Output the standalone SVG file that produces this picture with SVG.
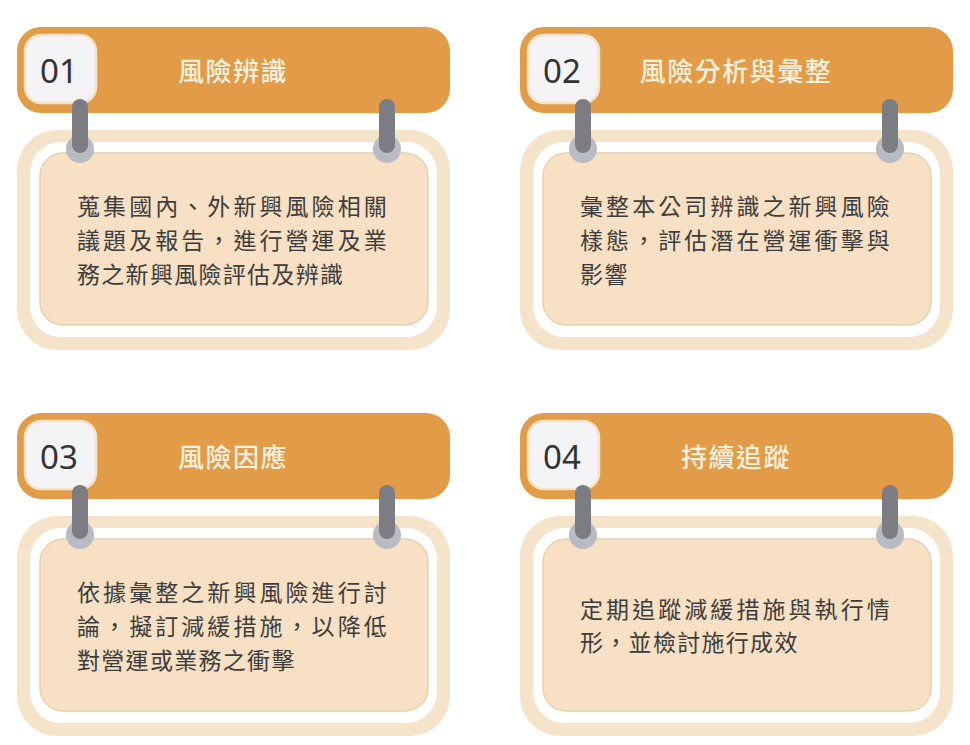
<svg xmlns="http://www.w3.org/2000/svg" xmlns:xlink="http://www.w3.org/1999/xlink" width="970" height="745" viewBox="0 0 970 745">
  <style>
    .hdr { fill: #e29b46; }
    .numbox { fill: #f4f4f7; stroke: #f7e2c6; stroke-width: 2.5; }
    .outer { fill: #f5e3ca; }
    .band { fill: #ffffff; }
    .inner { fill: #f7e0c3; stroke: #e8d0b1; stroke-width: 1.5; }
    .ring { fill: #b9bbc2; }
    .bar { fill: #7b7d83; }
    .num { font-family: "Noto Sans", "Open Sans", sans-serif; font-size: 33px; fill: #333333; text-anchor: middle; }
    .title { font-family: "Noto Sans CJK TC", "Noto Sans CJK SC", sans-serif; font-size: 26px; font-weight: 500; fill: #fdf1e0; text-anchor: middle; letter-spacing: 1.5px; }
    .body { font-family: "Noto Sans CJK TC", "Noto Sans CJK SC", sans-serif; font-size: 23px; fill: #3d3d3d; letter-spacing: 1.3px; }
  </style>
  <defs>
    <g id="frame">
      <rect class="hdr" x="0" y="0" width="433" height="86" rx="24"/>
      <rect class="numbox" x="8" y="8" width="71" height="68" rx="16"/>
      <rect class="outer" x="0" y="103" width="433" height="220" rx="40"/>
      <rect class="band" x="13" y="115" width="407" height="195" rx="31"/>
      <rect class="inner" x="23" y="126" width="388" height="172" rx="23"/>
      <circle class="ring" cx="63" cy="122" r="14"/>
      <rect class="bar" x="55" y="72" width="16" height="54" rx="8"/>
      <circle class="ring" cx="370" cy="122" r="14"/>
      <rect class="bar" x="362" y="72" width="16" height="54" rx="8"/>
    </g>
  </defs>
  <rect width="970" height="745" fill="#ffffff"/>

  <g id="card-01">
    <use xlink:href="#frame" x="17" y="27"/>
    <text class="num" x="59" y="83">01</text>
    <text class="title" x="233" y="81">風險辨識</text>
    <text class="body" x="77" y="215" textLength="311" lengthAdjust="spacing">蒐集國內、外新興風險相關</text>
    <text class="body" x="77" y="249" textLength="311" lengthAdjust="spacing">議題及報告，進行營運及業</text>
    <text class="body" x="77" y="283">務之新興風險評估及辨識</text>
  </g>

  <g id="card-02">
    <use xlink:href="#frame" x="520" y="27"/>
    <text class="num" x="562" y="83">02</text>
    <text class="title" x="736" y="81">風險分析與彙整</text>
    <text class="body" x="580" y="215" textLength="311" lengthAdjust="spacing">彙整本公司辨識之新興風險</text>
    <text class="body" x="580" y="249" textLength="311" lengthAdjust="spacing">樣態，評估潛在營運衝擊與</text>
    <text class="body" x="580" y="283">影響</text>
  </g>

  <g id="card-03">
    <use xlink:href="#frame" x="17" y="413"/>
    <text class="num" x="59" y="469">03</text>
    <text class="title" x="233" y="467">風險因應</text>
    <text class="body" x="77" y="601" textLength="311" lengthAdjust="spacing">依據彙整之新興風險進行討</text>
    <text class="body" x="77" y="635" textLength="311" lengthAdjust="spacing">論，擬訂減緩措施，以降低</text>
    <text class="body" x="77" y="669">對營運或業務之衝擊</text>
  </g>

  <g id="card-04">
    <use xlink:href="#frame" x="520" y="413"/>
    <text class="num" x="562" y="469">04</text>
    <text class="title" x="736" y="467">持續追蹤</text>
    <text class="body" x="580" y="618" textLength="311" lengthAdjust="spacing">定期追蹤減緩措施與執行情</text>
    <text class="body" x="580" y="651">形，並檢討施行成效</text>
  </g>

  <g id="connectors"></g>
</svg>
